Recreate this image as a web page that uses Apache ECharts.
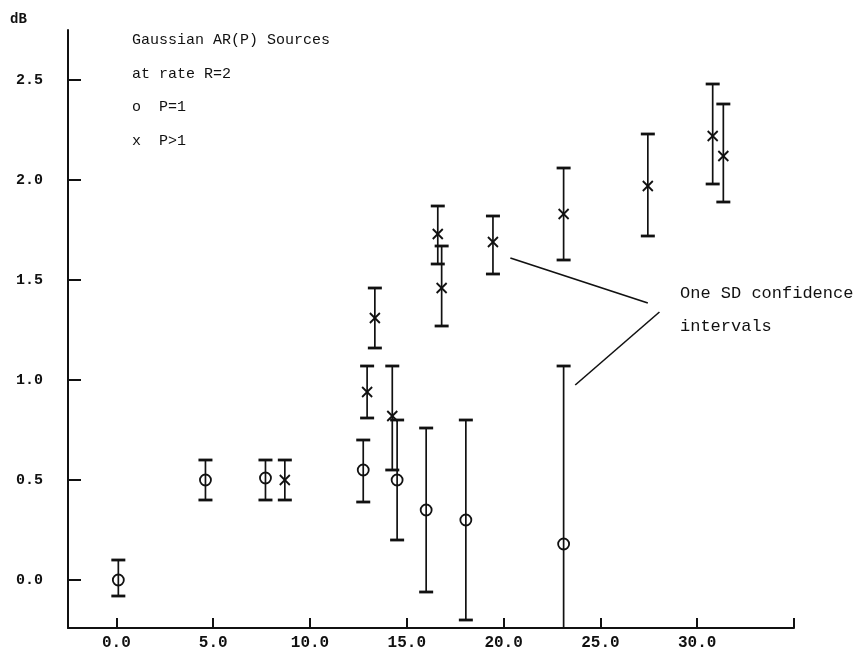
<!DOCTYPE html>
<html>
<head>
<meta charset="utf-8">
<script src="https://cdn.jsdelivr.net/npm/echarts@6/dist/echarts.min.js"></script>
<style>html,body{margin:0;padding:0;background:#fff;}#c{width:868px;height:654px;}</style>
</head>
<body>
<div id="c"></div>
<script>
// P = 1 sources (circles)
const p1X  = [0.1, 4.6, 7.7, 12.75, 14.5, 16.0, 18.05, 23.1];
const p1Y  = [0.0, 0.5, 0.51, 0.55, 0.5, 0.35, 0.3, 0.18];
const p1Lo = [-0.08, 0.4, 0.4, 0.39, 0.2, -0.06, -0.2, -0.3];
const p1Hi = [0.1, 0.6, 0.6, 0.7, 0.8, 0.76, 0.8, 1.07];
// P > 1 sources (crosses)
const pnX  = [8.7, 12.95, 13.35, 14.25, 16.6, 16.8, 19.45, 23.1, 27.45, 30.8, 31.35];
const pnY  = [0.5, 0.94, 1.31, 0.82, 1.73, 1.46, 1.69, 1.83, 1.97, 2.22, 2.12];
const pnLo = [0.4, 0.81, 1.16, 0.55, 1.58, 1.27, 1.53, 1.6, 1.72, 1.98, 1.89];
const pnHi = [0.6, 1.07, 1.46, 1.07, 1.87, 1.67, 1.82, 2.06, 2.23, 2.48, 2.38];
// ticks
const xTicks  = [0, 5, 10, 15, 20, 25, 30, 35];
const xLabels = [0, 5, 10, 15, 20, 25, 30];
const yTicks  = [0, 0.5, 1.0, 1.5, 2.0, 2.5];
// annotation leader lines (data coordinates)
const leader1 = [[20.35, 1.61], [27.45, 1.385]];
const leader2 = [[28.05, 1.34], [23.7, 0.975]];
// texts
const legendLines = ['Gaussian AR(P) Sources', 'at rate R=2', 'o  P=1', 'x  P>1'];
const noteLines = ['One SD confidence', 'intervals'];

const INK = '#111';
const MONO = '"Liberation Mono", "DejaVu Sans Mono", monospace';

function makeData(xs, ys, lo, hi) {
  return xs.map((x, i) => [x, ys[i], lo[i], hi[i]]);
}

function errRender(kind) {
  return function (params, api) {
    const x = api.value(0), y = api.value(1), lo = api.value(2), hi = api.value(3);
    const pc = api.coord([x, y]);
    const pl = api.coord([x, lo]);
    const ph = api.coord([x, hi]);
    const cw = 7;
    const children = [
      {type: 'line', shape: {x1: pl[0], y1: pl[1], x2: ph[0], y2: ph[1]}, style: {stroke: INK, lineWidth: 1.7}},
      {type: 'line', shape: {x1: ph[0] - cw, y1: ph[1], x2: ph[0] + cw, y2: ph[1]}, style: {stroke: INK, lineWidth: 2.8}},
      {type: 'line', shape: {x1: pl[0] - cw, y1: pl[1], x2: pl[0] + cw, y2: pl[1]}, style: {stroke: INK, lineWidth: 2.8}}
    ];
    if (kind === 'o') {
      children.push({type: 'circle', shape: {cx: pc[0], cy: pc[1], r: 5.5}, style: {fill: 'none', stroke: INK, lineWidth: 1.8}});
    } else {
      const s = 5;
      children.push({type: 'line', shape: {x1: pc[0] - s, y1: pc[1] - s, x2: pc[0] + s, y2: pc[1] + s}, style: {stroke: INK, lineWidth: 1.8}});
      children.push({type: 'line', shape: {x1: pc[0] - s, y1: pc[1] + s, x2: pc[0] + s, y2: pc[1] - s}, style: {stroke: INK, lineWidth: 1.8}});
    }
    return {type: 'group', children: children};
  };
}

const chart = echarts.init(document.getElementById('c'), null, {renderer: 'canvas'});

const graphics = [
  {type: 'text', left: 10, top: 12, style: {text: 'dB', font: 'bold 14px ' + MONO, fill: INK}}
];
legendLines.forEach((t, i) => {
  graphics.push({type: 'text', left: 132, top: 33 + i * 33.5, style: {text: t, font: '15px ' + MONO, fill: INK}});
});
noteLines.forEach((t, i) => {
  graphics.push({type: 'text', left: 680, top: 285 + i * 33, style: {text: t, font: '17px ' + MONO, fill: INK}});
});

chart.setOption({
  animation: false,
  backgroundColor: '#fff',
  grid: {left: 68, right: 74, top: 30, bottom: 26, containLabel: false},
  xAxis: {
    type: 'value', min: -2.5, max: 35,
    axisLine: {onZero: false, lineStyle: {color: INK, width: 2}},
    axisTick: {inside: true, length: 10, customValues: xTicks, lineStyle: {color: INK, width: 2}},
    axisLabel: {customValues: xLabels, formatter: v => v.toFixed(1), fontFamily: MONO, fontSize: 16, fontWeight: 'bold', color: INK, margin: 7},
    splitLine: {show: false}
  },
  yAxis: {
    type: 'value', min: -0.24, max: 2.75,
    axisLine: {show: true, onZero: false, lineStyle: {color: INK, width: 2}},
    axisTick: {show: true, inside: true, length: 13, customValues: yTicks, lineStyle: {color: INK, width: 2}},
    axisLabel: {customValues: yTicks, formatter: v => v.toFixed(1), fontFamily: MONO, fontSize: 15, fontWeight: 'bold', color: INK, margin: 25},
    splitLine: {show: false}
  },
  graphic: graphics,
  series: [
    {type: 'custom', name: 'P=1', clip: true, renderItem: errRender('o'), encode: {x: 0, y: 1}, data: makeData(p1X, p1Y, p1Lo, p1Hi)},
    {type: 'custom', name: 'P>1', clip: true, renderItem: errRender('x'), encode: {x: 0, y: 1}, data: makeData(pnX, pnY, pnLo, pnHi)},
    {type: 'line', data: leader1, symbol: 'none', lineStyle: {color: INK, width: 1.8}, silent: true},
    {type: 'line', data: leader2, symbol: 'none', lineStyle: {color: INK, width: 1.6}, silent: true}
  ]
});
</script>
</body>
</html>
